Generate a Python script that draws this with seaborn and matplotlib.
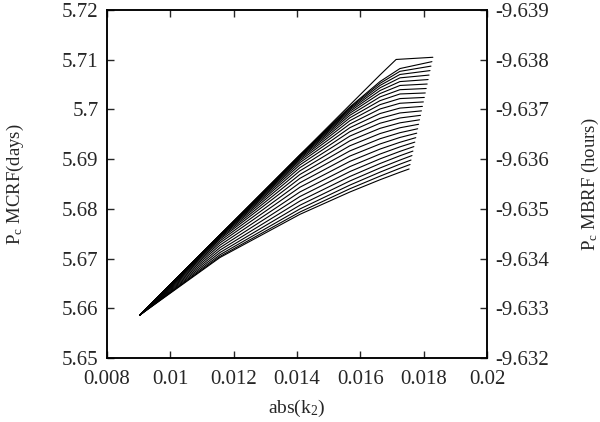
import pandas as pd
import matplotlib
matplotlib.use('Agg')
import matplotlib.pyplot as plt
import seaborn as sns

# data
# all curves start from the same point
x_start = 0.00904
y_start = 5.65865

# common abscissae of the intermediate points
x_grid = [0.01157, 0.01409, 0.01567, 0.01662, 0.01725]

# y of each fan curve at x_grid, bottom curve first
y_fan = [
    [5.67022, 5.67889, 5.68339, 5.68585, 5.68736],
    [5.67044, 5.67935, 5.68404, 5.68657, 5.68816],
    [5.67078, 5.67997, 5.68478, 5.68738, 5.68899],
    [5.67122, 5.68072, 5.68561, 5.68822, 5.68981],
    [5.67171, 5.68156, 5.68651, 5.68911, 5.69068],
    [5.67221, 5.68247, 5.68750, 5.69005, 5.69156],
    [5.67271, 5.68339, 5.68850, 5.69102, 5.69247],
    [5.67317, 5.68434, 5.68955, 5.69202, 5.69339],
    [5.67356, 5.68525, 5.69062, 5.69305, 5.69436],
    [5.67390, 5.68613, 5.69166, 5.69410, 5.69532],
    [5.67414, 5.68691, 5.69269, 5.69514, 5.69631],
    [5.67434, 5.68764, 5.69369, 5.69619, 5.69730],
    [5.67448, 5.68828, 5.69464, 5.69722, 5.69828],
    [5.67458, 5.68883, 5.69553, 5.69820, 5.69929],
    [5.67464, 5.68929, 5.69633, 5.69917, 5.70027],
    [5.67468, 5.68967, 5.69707, 5.70009, 5.70124],
    [5.67470, 5.68997, 5.69774, 5.70096, 5.70218],
    [5.67472, 5.69021, 5.69832, 5.70176, 5.70311],
    [5.67474, 5.69040, 5.69882, 5.70251, 5.70397],
    [5.67474, 5.69054, 5.69925, 5.70319, 5.70482],
    [5.67474, 5.69064, 5.69961, 5.70379, 5.70560],
    [5.67474, 5.69070, 5.69991, 5.70434, 5.70635],
    [5.67474, 5.69076, 5.70015, 5.70482, 5.70703],
    [5.67474, 5.69078, 5.70035, 5.70524, 5.70766],
    [5.67474, 5.69080, 5.70049, 5.70560, 5.70822],
]

# end point of each fan curve
x_end = [0.01754, 0.01757, 0.01760, 0.01763, 0.01766, 0.01769, 0.01772,
         0.01775, 0.01778, 0.01781, 0.01784, 0.01787, 0.01790, 0.01793,
         0.01796, 0.01799, 0.01802, 0.01805, 0.01808, 0.01811, 0.01814,
         0.01817, 0.01820, 0.01823, 0.01826]
y_end = [5.68802, 5.68892, 5.68982, 5.69072, 5.69162, 5.69252, 5.69342,
         5.69432, 5.69522, 5.69611, 5.69701, 5.69791, 5.69881, 5.69971,
         5.70061, 5.70151, 5.70241, 5.70331, 5.70421, 5.70511, 5.70601,
         5.70691, 5.70781, 5.70871, 5.70961]

# uppermost curve, goes flat at the top
x_top = [0.00904, 0.01157, 0.01409, 0.01567, 0.01662, 0.01713, 0.01829]
y_top = [5.65865, 5.67474, 5.69084, 5.70090, 5.70693, 5.71005, 5.71049]

x_ticks = [0.008, 0.01, 0.012, 0.014, 0.016, 0.018, 0.02]
x_labels = ['0.008', '0.01', '0.012', '0.014', '0.016', '0.018', '0.02']
y_ticks = [5.65, 5.66, 5.67, 5.68, 5.69, 5.7, 5.71, 5.72]
y_labels = ['5.65', '5.66', '5.67', '5.68', '5.69', '5.7', '5.71', '5.72']
y2_ticks = [-9.632, -9.633, -9.634, -9.635, -9.636, -9.637, -9.638, -9.639]
y2_labels = ['-9.632', '-9.633', '-9.634', '-9.635', '-9.636', '-9.637',
             '-9.638', '-9.639']

# long table for seaborn
rows = []
for i, ys in enumerate(y_fan):
    xs = [x_start] + x_grid + [x_end[i]]
    yy = [y_start] + ys + [y_end[i]]
    for j in range(len(xs)):
        rows.append({'curve': i, 'order': j, 'k2': xs[j], 'pc': yy[j]})
for j in range(len(x_top)):
    rows.append({'curve': len(y_fan), 'order': j, 'k2': x_top[j], 'pc': y_top[j]})
df = pd.DataFrame(rows)

# style
sns.set_style('ticks')
plt.rcParams['font.family'] = ['Liberation Serif', 'DejaVu Serif']
plt.rcParams['mathtext.fontset'] = 'custom'
plt.rcParams['mathtext.rm'] = 'Liberation Serif'
plt.rcParams['mathtext.it'] = 'Liberation Serif:italic'

fig = plt.figure(figsize=(6, 4.22), dpi=100)
ax = fig.add_axes([0.1783, 0.1517, 0.6334, 0.8246])

sns.lineplot(data=df, x='k2', y='pc', units='curve', estimator=None,
             sort=False, color='black', linewidth=0.8, ax=ax)

ax.set_xlim(0.008, 0.02)
ax.set_ylim(5.65, 5.72)
ax.set_xticks(x_ticks)
ax.set_xticklabels(x_labels)
ax.set_yticks(y_ticks)
ax.set_yticklabels(y_labels)
ax.tick_params(direction='in', length=5, width=1, labelsize=15,
               top=True, right=False)
ax.tick_params(axis='x', pad=9)
ax.tick_params(axis='y', pad=6)
ax.set_xlabel('abs(k$_{\\mathrm{2}}$)', fontsize=14, labelpad=6)
ax.set_ylabel('P$_{\\mathrm{c}}$ MCRF(days)', fontsize=13.5, labelpad=26)

ax2 = ax.twinx()
ax2.set_ylim(-9.632, -9.639)
ax2.set_yticks(y2_ticks)
ax2.set_yticklabels(y2_labels)
ax2.tick_params(direction='in', length=5, width=1, labelsize=15, pad=6)
ax2.set_ylabel('P$_{\\mathrm{c}}$ MBRF (hours)', fontsize=13.5, labelpad=22)

for a in (ax, ax2):
    for s in a.spines.values():
        s.set_linewidth(1.1)
        s.set_color('black')

fig.savefig('out.png', dpi=100)
